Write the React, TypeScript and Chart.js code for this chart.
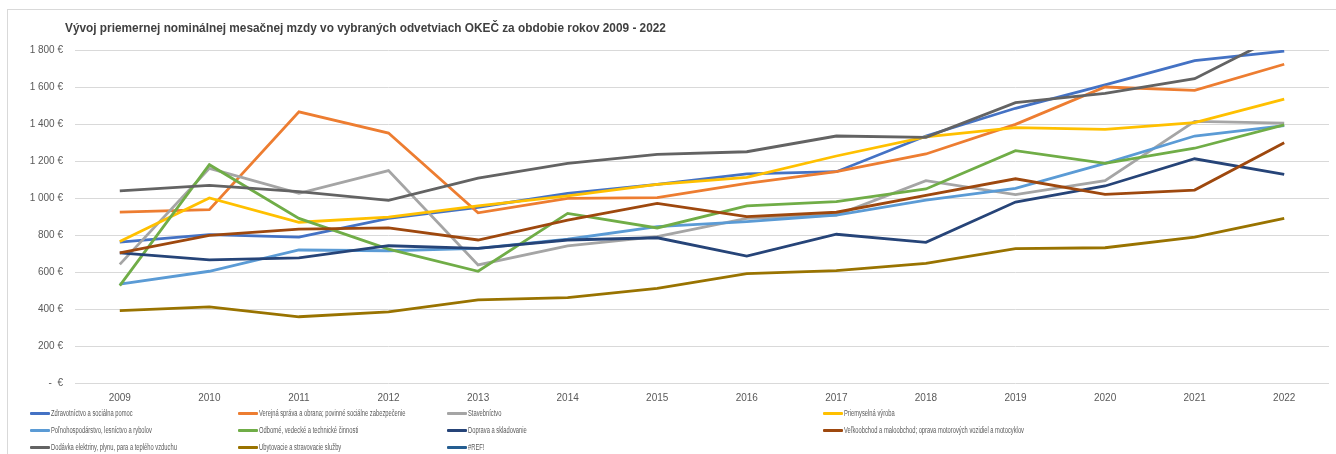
import React, { useEffect, useRef } from "react";
import { Chart, registerables } from "chart.js";

Chart.register(...registerables);

const titleText =
  "Vývoj priemernej nominálnej mesačnej mzdy vo vybraných odvetviach OKEČ za obdobie rokov 2009 - 2022";

const years = ["2009", "2010", "2011", "2012", "2013", "2014", "2015", "2016", "2017", "2018", "2019", "2020", "2021", "2022"];

const yTicks = [0, 200, 400, 600, 800, 1000, 1200, 1400, 1600, 1800];

const seriesNames = [
  "Zdravotníctvo a sociálna pomoc",
  "Verejná správa a obrana; povinné sociálne zabezpečenie",
  "Stavebníctvo",
  "Priemyselná výroba",
  "Poľnohospodárstvo, lesníctvo a rybolov",
  "Odborné, vedecké a technické činnosti",
  "Doprava a skladovanie",
  "Veľkoobchod a maloobchod; oprava motorových vozidiel a motocyklov",
  "Dodávka elektriny, plynu, para a teplého vzduchu",
  "Ubytovacie a stravovacie služby",
  "#REF!",
];

const seriesColors = [
  "#4472C4",
  "#ED7D31",
  "#A5A5A5",
  "#FFC000",
  "#5B9BD5",
  "#70AD47",
  "#264478",
  "#9E480E",
  "#636363",
  "#997300",
  "#255E91",
];

const zdravotnictvo = [762, 802, 789, 890, 950, 1025, 1074, 1130, 1142, 1335, 1485, 1611, 1742, 1794];
const verejnaSprava = [924, 937, 1466, 1351, 920, 998, 1002, 1079, 1142, 1238, 1398, 1600, 1582, 1723];
const stavebnictvo = [641, 1160, 1025, 1148, 638, 741, 791, 890, 908, 1094, 1018, 1094, 1414, 1405];
const priemysel = [765, 1000, 869, 897, 957, 1012, 1074, 1112, 1227, 1330, 1380, 1371, 1407, 1535];
const polnohospodarstvo = [535, 604, 719, 715, 728, 777, 845, 872, 908, 989, 1052, 1187, 1335, 1391];
const odborne = [526, 1180, 890, 724, 604, 917, 838, 958, 980, 1049, 1256, 1187, 1269, 1395];
const doprava = [703, 666, 676, 742, 728, 773, 785, 686, 804, 760, 978, 1065, 1212, 1128];
const velkoobchod = [703, 798, 832, 839, 773, 881, 971, 899, 923, 1014, 1104, 1020, 1043, 1299];
const dodavka = [1038, 1068, 1034, 987, 1108, 1187, 1236, 1250, 1335, 1328, 1515, 1566, 1645, 1890];
const ubytovanie = [391, 412, 358, 385, 449, 461, 512, 591, 607, 647, 726, 731, 788, 890];
const refSeries: number[] = [];

const seriesValues = [
  zdravotnictvo,
  verejnaSprava,
  stavebnictvo,
  priemysel,
  polnohospodarstvo,
  odborne,
  doprava,
  velkoobchod,
  dodavka,
  ubytovanie,
  refSeries,
];

const legendCols = [30, 238, 447, 823];
const legendRows = [413, 430, 447];

function formatEuro(v: number): string {
  if (v === 0) return "-  €";
  return String(v).replace(/\B(?=(\d{3})+(?!\d))/g, " ") + " €";
}

export default function App() {
  const canvasRef = useRef<HTMLCanvasElement | null>(null);

  useEffect(() => {
    if (!canvasRef.current) return;
    const n = seriesNames.length;
    const chart = new Chart(canvasRef.current, {
      type: "line",
      data: {
        labels: years,
        datasets: seriesNames.map((name, i) => ({
          label: name,
          data: seriesValues[i],
          borderColor: seriesColors[i],
          backgroundColor: seriesColors[i],
          borderWidth: 2.8,
          pointRadius: 0,
          pointHoverRadius: 0,
          tension: 0,
          fill: false,
          order: n - i,
        })),
      },
      options: {
        animation: false,
        responsive: false,
        maintainAspectRatio: false,
        layout: { padding: { left: 0, right: 7, top: 50, bottom: 51 } },
        plugins: {
          legend: { display: false },
          title: { display: false },
          tooltip: { enabled: false },
        },
        scales: {
          x: {
            type: "category",
            offset: true,
            grid: { display: false, drawTicks: false },
            border: { display: false },
            ticks: {
              color: "#595959",
              font: { family: "'Liberation Sans', Arial, sans-serif", size: 10 },
              padding: 9,
              maxRotation: 0,
              autoSkip: false,
            },
            afterFit: (s: any) => {
              s.height = 20;
            },
          },
          y: {
            min: 0,
            max: 1800,
            afterBuildTicks: (s: any) => {
              s.ticks = yTicks.map((v) => ({ value: v }));
            },
            grid: { color: "#D9D9D9", lineWidth: 1, drawTicks: false },
            border: { display: false },
            ticks: {
              color: "#595959",
              font: { family: "'Liberation Sans', Arial, sans-serif", size: 10 },
              padding: 12,
              callback: (v: any) => formatEuro(Number(v)),
            },
            afterFit: (s: any) => {
              s.width = 75;
            },
          },
        },
      },
    });
    return () => chart.destroy();
  }, []);

  return (
    <div style={{ position: "relative", width: 1336, height: 454, overflow: "hidden", background: "#fff" }}>
      <style>{"body{margin:0;}"}</style>
      <div
        style={{
          position: "absolute",
          left: 7,
          top: 9,
          width: 1400,
          height: 500,
          borderLeft: "1px solid #D9D9D9",
          borderTop: "1px solid #D9D9D9",
          boxSizing: "border-box",
        }}
      />
      <canvas ref={canvasRef} width={1336} height={454} style={{ position: "absolute", left: 0, top: 0, width: 1336, height: 454 }} />
      <div
        style={{
          position: "absolute",
          left: 65,
          top: 20,
          whiteSpace: "nowrap",
          fontFamily: "'Liberation Sans', Arial, sans-serif",
          fontWeight: "bold",
          fontSize: 13,
          lineHeight: "16px",
          color: "#404040",
          transform: "scaleX(0.91)",
          transformOrigin: "left center",
        }}
      >
        {titleText}
      </div>
      {seriesNames.map((name, i) => {
        const col = i % 4;
        const row = Math.floor(i / 4);
        const x = legendCols[col];
        const y = legendRows[row];
        return (
          <div key={name} style={{ position: "absolute", left: x, top: y - 6, height: 12, whiteSpace: "nowrap" }}>
            <div
              style={{
                position: "absolute",
                left: 0,
                top: 5,
                width: 20,
                height: 3,
                background: seriesColors[i],
                borderRadius: 1,
              }}
            />
            <div
              style={{
                position: "absolute",
                left: 21,
                top: 0,
                fontFamily: "'Liberation Sans', Arial, sans-serif",
                fontSize: 8.5,
                lineHeight: "12px",
                color: "#595959",
                transform: "scaleX(0.68)",
                transformOrigin: "left center",
              }}
            >
              {name}
            </div>
          </div>
        );
      })}
    </div>
  );
}
